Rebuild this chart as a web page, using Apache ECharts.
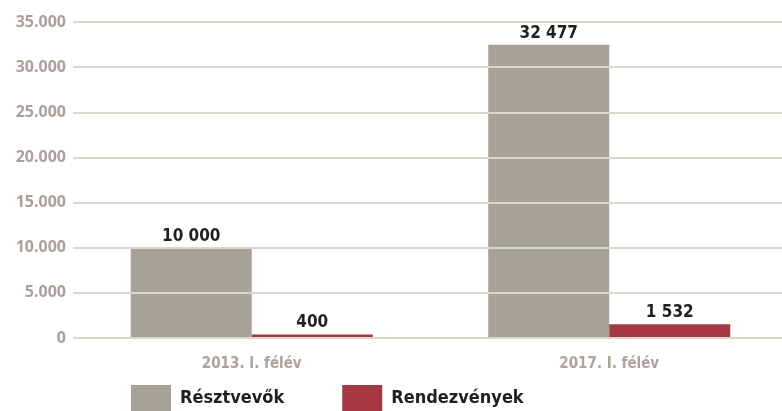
<!DOCTYPE html>
<html>
<head>
<meta charset="utf-8">
<script src="https://cdn.jsdelivr.net/npm/echarts@6/dist/echarts.min.js"></script>
<style>
  html, body { margin: 0; padding: 0; background: #fff; overflow: hidden; }
  #chart { width: 788px; height: 411px; }
</style>
</head>
<body>
<div id="chart"></div>
<script>
var categories = ['2013. I. félév', '2017. I. félév'];
var resztvevok = [10000, 32477];
var rendezvenyek = [400, 1532];
var yTicks = [0, 5000, 10000, 15000, 20000, 25000, 30000, 35000];

// nincs keskeny Myriad, a DejaVu condensed a legközelebbi
var narrow = '"DejaVu Sans Condensed", "DejaVu Sans", sans-serif';

var formatThousands = function (v, sep) {
  return String(v).replace(/\B(?=(\d{3})+(?!\d))/g, sep);
};

var barLabel = {
  show: true,
  position: 'top',
  distance: 3,
  color: '#231f20',
  fontFamily: narrow,
  fontWeight: 'bold',
  fontSize: 17,
  formatter: function (p) {
    return formatThousands(p.value, ' ');
  }
};

var option = {
  animation: false,
  backgroundColor: '#ffffff',
  grid: {
    left: 73,
    right: 0,
    top: 22,
    bottom: 73,
    containLabel: false
  },
  legend: {
    left: 131,
    top: 385,
    padding: 0,
    itemWidth: 40,
    itemHeight: 26,
    itemGap: 58,
    icon: 'rect',
    textStyle: {
      color: '#231f20',
      fontFamily: narrow,
      fontWeight: 'bold',
      fontSize: 18,
      padding: [0, 0, 0, 4]
    },
    data: ['Résztvevők', 'Rendezvények']
  },
  xAxis: {
    type: 'category',
    data: categories,
    axisLine: { show: false },
    axisTick: { show: false },
    axisLabel: {
      color: '#aaa49a',
      fontFamily: narrow,
      fontWeight: 'bold',
      fontSize: 15,
      margin: 19
    }
  },
  yAxis: {
    type: 'value',
    min: yTicks[0],
    max: yTicks[yTicks.length - 1],
    interval: 5000,
    z: 5,
    axisLine: { show: false },
    axisTick: { show: false },
    splitLine: {
      show: true,
      lineStyle: { color: '#d8d8cc', width: 2 }
    },
    axisLabel: {
      color: '#a8a298',
      fontFamily: '"Open Sans", sans-serif',
      fontWeight: 'bold',
      fontSize: 16,
      margin: 7,
      formatter: function (v) {
        return formatThousands(v, '.');
      }
    }
  },
  series: [
    {
      name: 'Résztvevők',
      type: 'bar',
      data: resztvevok,
      barWidth: 121,
      barGap: '0%',
      itemStyle: { color: '#a8a196' },
      label: barLabel
    },
    {
      name: 'Rendezvények',
      type: 'bar',
      data: rendezvenyek,
      barWidth: 121,
      barGap: '0%',
      itemStyle: { color: '#a63743' },
      label: barLabel
    }
  ]
};

var chart = echarts.init(document.getElementById('chart'));
chart.setOption(option);
</script>
</body>
</html>
